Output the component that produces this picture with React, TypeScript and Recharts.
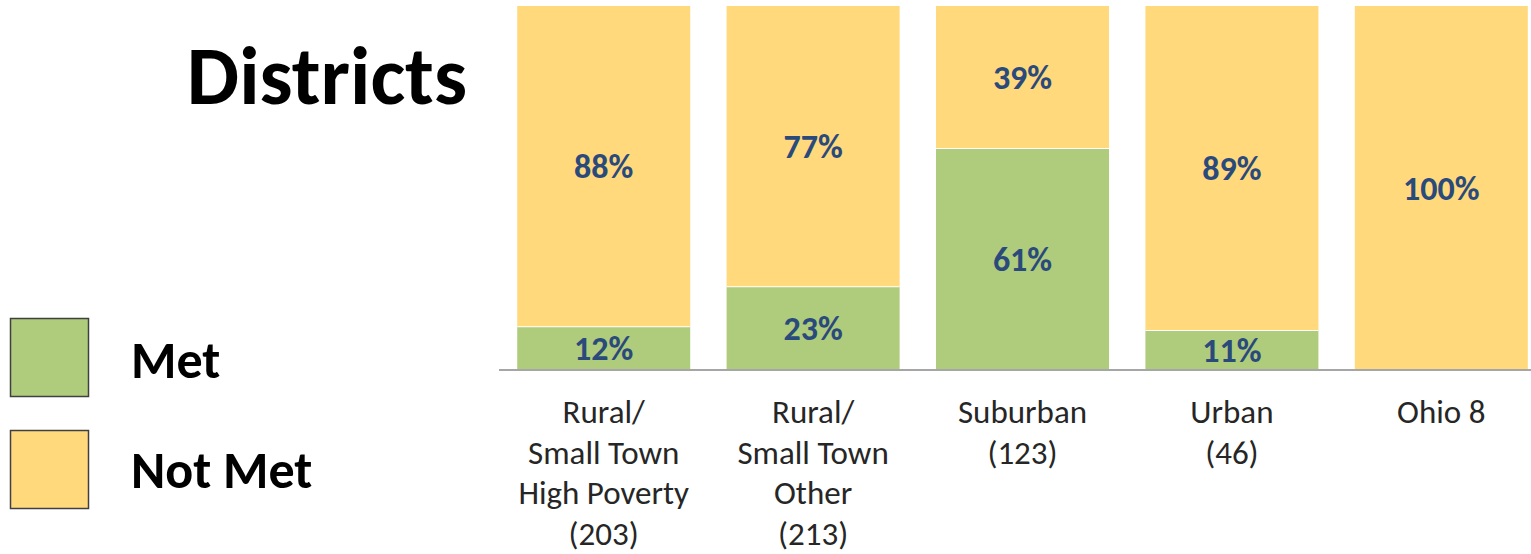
import { BarChart, Bar, XAxis, YAxis, LabelList } from 'recharts';

const categories = [
  'Rural/\nSmall Town\nHigh Poverty\n(203)',
  'Rural/\nSmall Town\nOther\n(213)',
  'Suburban\n(123)',
  'Urban\n(46)',
  'Ohio 8',
];
const met = [12, 23, 61, 11, 0];
const notMet = [88, 77, 39, 89, 100];
const seriesNames = ['Met', 'Not Met'];
const title = 'Districts';

const GREEN = '#AFCB7C';
const YELLOW = '#FFD97C';
const LABEL = '#2A4A7B';
const FONT = 'Carlito, Calibri, Lato, sans-serif';

const chartData = categories.map((name, i) => ({ name, met: met[i], notMet: notMet[i] }));

const pct = (v: any) => (v ? `${v}%` : '');

// green segment with the thin white divider on top
const MetShape = (props: any) => {
  const { x, y, width, height, fill } = props;
  if (!height) return <g />;
  return (
    <g>
      <rect x={x} y={y} width={width} height={height} fill={fill} />
      <line x1={x} x2={x + width} y1={y} y2={y} stroke="#fff" strokeWidth={2} />
    </g>
  );
};

const CategoryTick = ({ x, y, payload }: any) => {
  const lines = String(payload.value).split('\n');
  return (
    <text x={x} y={y} textAnchor="middle" fill="#262626" fontSize={33} fontFamily={FONT}>
      {lines.map((l, i) => (
        <tspan key={i} x={x} dy={i === 0 ? 53 : 40.5}>
          {l}
        </tspan>
      ))}
    </text>
  );
};

export default function App() {
  return (
    <div
      style={{
        position: 'fixed',
        left: 0,
        top: 0,
        width: 1531,
        height: 554,
        overflow: 'hidden',
        background: '#fff',
        fontFamily: FONT,
      }}
    >
      <svg width={500} height={554} style={{ position: 'absolute', left: 0, top: 0 }}>
        <text x={467} y={104} textAnchor="end" fontSize={83} fontWeight="bold" fill="#000" fontFamily={FONT}>
          {title}
        </text>
        <rect x={10.5} y={318.5} width={78} height={78} fill={GREEN} stroke="#404040" strokeWidth={1.5} />
        <rect x={10.5} y={430.5} width={78} height={78} fill={YELLOW} stroke="#404040" strokeWidth={1.5} />
        <text x={131} y={378} fontSize={52} fontWeight="bold" fill="#000" fontFamily={FONT}>
          {seriesNames[0]}
        </text>
        <text x={131} y={488} fontSize={52} fontWeight="bold" fill="#000" fontFamily={FONT}>
          {seriesNames[1]}
        </text>
      </svg>
      <div style={{ position: 'absolute', left: 0, top: 0 }}>
        <BarChart
          width={1560}
          height={554}
          data={chartData}
          margin={{ top: 6, right: 14, left: 499, bottom: 14 }}
          barCategoryGap="8.7%"
        >
          <XAxis
            dataKey="name"
            interval={0}
            height={170}
            tickLine={false}
            tickSize={0}
            tickMargin={0}
            axisLine={{ stroke: '#A6A6A6', strokeWidth: 2 }}
            tick={<CategoryTick />}
          />
          <YAxis hide domain={[0, 100]} />
          <Bar dataKey="met" name={seriesNames[0]} stackId="a" fill={GREEN} shape={<MetShape />} isAnimationActive={false}>
            <LabelList
              dataKey="met"
              position="center"
              formatter={pct}
              fill={LABEL}
              fontSize={34}
              fontWeight="bold"
              fontFamily={FONT}
            />
          </Bar>
          <Bar dataKey="notMet" name={seriesNames[1]} stackId="a" fill={YELLOW} isAnimationActive={false}>
            <LabelList
              dataKey="notMet"
              position="center"
              formatter={pct}
              fill={LABEL}
              fontSize={34}
              fontWeight="bold"
              fontFamily={FONT}
            />
          </Bar>
        </BarChart>
      </div>
    </div>
  );
}
